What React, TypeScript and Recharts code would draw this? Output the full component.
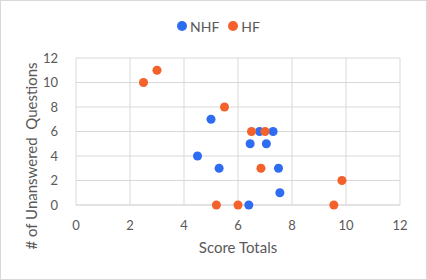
import React from 'react';
import { ScatterChart, Scatter, XAxis, YAxis, ZAxis, CartesianGrid, Legend } from 'recharts';

const nhfX = [5.0, 4.5, 5.3, 6.8, 7.3, 6.45, 7.05, 7.5, 7.55, 6.4];
const nhfY = [7, 4, 3, 6, 6, 5, 5, 3, 1, 0];
const hfX = [2.5, 3.0, 5.5, 6.5, 7.0, 6.85, 9.85, 9.55, 5.2, 6.0];
const hfY = [10, 11, 8, 6, 6, 3, 2, 0, 0, 0];
const xTicks = [0, 2, 4, 6, 8, 10, 12];
const yTicks = [0, 2, 4, 6, 8, 10, 12];
const seriesNames = ['NHF', 'HF'];
const colors = ['#2E6CF2', '#F4612A'];

const nhfData = nhfX.map((x, i) => ({ x, y: nhfY[i] }));
const hfData = hfX.map((x, i) => ({ x, y: hfY[i] }));

const FONT = 'Lato, "Open Sans", sans-serif';
const TXT = '#595959';

const LegendContent = () => (
  <div style={{ display: 'flex', justifyContent: 'center', alignItems: 'center', height: 20, fontFamily: FONT, fontSize: 14, color: TXT, paddingLeft: 10 }}>
    {seriesNames.map((n, i) => (
      <span key={n} style={{ display: 'inline-flex', alignItems: 'center', marginRight: i === 0 ? 9 : 0 }}>
        <span style={{ width: 10, height: 10, borderRadius: 5, background: colors[i], display: 'inline-block', marginRight: 3 }} />
        {n}
      </span>
    ))}
  </div>
);

export default function App() {
  return (
    <div style={{ position: 'absolute', left: 0, top: 0, width: 427, height: 280, background: '#fff', boxSizing: 'border-box', border: '1px solid #d9d9d9' }}>
      <div style={{ position: 'absolute', left: -1, top: -1 }}>
        <ScatterChart width={427} height={280} margin={{ top: 38, right: 27, bottom: 0, left: 0 }}>
          <CartesianGrid stroke="#d9d9d9" strokeWidth={1} />
          <XAxis
            type="number"
            dataKey="x"
            domain={[0, 12]}
            ticks={xTicks}
            height={75}
            axisLine={{ stroke: '#d9d9d9' }}
            tickLine={false}
            tick={{ fill: TXT, fontSize: 13, fontFamily: FONT }}
            tickMargin={10}
            label={{
              content: () => (
                <text x={238} y={253} textAnchor="middle" fill={TXT} fontSize={15} fontFamily={FONT}>Score Totals</text>
              ),
            }}
          />
          <YAxis
            type="number"
            dataKey="y"
            domain={[0, 12]}
            ticks={yTicks}
            width={76}
            axisLine={false}
            tickLine={false}
            tick={{ fill: TXT, fontSize: 13, fontFamily: FONT }}
            tickMargin={12}
            label={{
              content: () => (
                <text x={37} y={156} transform="rotate(-90 37 156)" textAnchor="middle" fill={TXT} fontSize={15} fontFamily={FONT} style={{ whiteSpace: 'pre' }}>{'# of Unanswered  Questions'}</text>
              ),
            }}
          />
          <ZAxis range={[85, 85]} />
          <Legend verticalAlign="top" align="center" wrapperStyle={{ top: 16, left: 0, width: 427, height: 20 }} content={<LegendContent />} />
          <Scatter name={seriesNames[0]} data={nhfData} fill={colors[0]} isAnimationActive={false} />
          <Scatter name={seriesNames[1]} data={hfData} fill={colors[1]} isAnimationActive={false} />
        </ScatterChart>
      </div>
    </div>
  );
}
